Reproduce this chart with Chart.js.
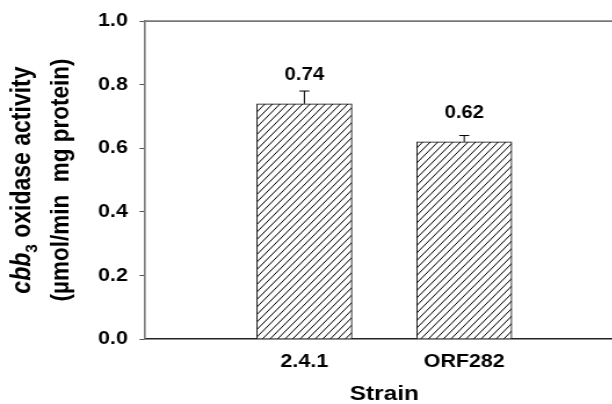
<!DOCTYPE html>
<html>
<head>
<meta charset="utf-8">
<script src="https://cdn.jsdelivr.net/npm/chart.js@4/dist/chart.umd.min.js"></script>
<style>
  html, body { margin: 0; padding: 0; background: #fff; overflow: hidden; width: 612px; height: 404px; }
  #wrap { position: absolute; left: 0; top: 0; width: 538px; height: 404px; transform: scaleX(1.16); transform-origin: 0 0; }
</style>
</head>
<body>
<div id="wrap"><canvas id="c"></canvas></div>
<script>
// ---- data ----
const categories = ['2.4.1', 'ORF282'];
const activity = [0.74, 0.62];
const errors = [0.04, 0.02];
const valueLabels = ['0.74', '0.62'];
const yTicks = [0.0, 0.2, 0.4, 0.6, 0.8, 1.0];

const FONT = '"Liberation Sans", Arial, sans-serif';

// hatch pattern "/"
function makeHatch() {
  const w = 13, h = 15;
  const c = document.createElement('canvas');
  c.width = w; c.height = h;
  const g = c.getContext('2d');
  g.fillStyle = '#fff';
  g.fillRect(0, 0, w, h);
  g.strokeStyle = '#000';
  g.lineWidth = 1;
  for (let k = -3; k <= 3; k++) {
    const off = k * 6.5;
    g.beginPath();
    g.moveTo(off, h);
    g.lineTo(off + w, 0);
    g.stroke();
  }
  return g.createPattern(c, 'repeat');
}
const hatch = makeHatch();

const extrasPlugin = {
  id: 'extras',
  afterDatasetsDraw(chart) {
    const ctx = chart.ctx;
    const ys = chart.scales.y;
    const meta = chart.getDatasetMeta(0);
    const ca = chart.chartArea;
    ctx.save();
    // top frame line
    ctx.strokeStyle = '#777';
    ctx.lineWidth = 1.6;
    ctx.beginPath();
    ctx.moveTo(ca.left, ca.top);
    ctx.lineTo(ca.right, ca.top);
    ctx.stroke();
    // error bars (upper only)
    ctx.strokeStyle = '#000';
    ctx.lineWidth = 1;
    meta.data.forEach((bar, i) => {
      const x = bar.x;
      const yb = ys.getPixelForValue(activity[i]);
      const yt = ys.getPixelForValue(activity[i] + errors[i]);
      ctx.beginPath();
      ctx.moveTo(x, yb);
      ctx.lineTo(x, yt);
      ctx.moveTo(x - 4.3, yt);
      ctx.lineTo(x + 4.3, yt);
      ctx.stroke();
    });
    // value labels
    ctx.fillStyle = '#000';
    ctx.font = 'bold 17.5px ' + FONT;
    ctx.textAlign = 'center';
    ctx.textBaseline = 'middle';
    meta.data.forEach((bar, i) => {
      ctx.fillText(valueLabels[i], bar.x, ys.getPixelForValue(activity[i]) - 29);
    });
    // y-axis title (rich text)
    const cy = (ca.top + ca.bottom) / 2;
    function drawRich(segs, bx) {
      let total = 0;
      segs.forEach(s => { ctx.font = s.font; s.w = ctx.measureText(s.t).width; total += s.w; });
      ctx.save();
      ctx.translate(bx, cy);
      ctx.rotate(-Math.PI / 2);
      ctx.textAlign = 'left';
      ctx.textBaseline = 'alphabetic';
      let x = -total / 2;
      segs.forEach(s => {
        ctx.font = s.font;
        ctx.fillText(s.t, x, s.dy || 0);
        x += s.w;
      });
      ctx.restore();
    }
    drawRich([
      { t: 'cbb', font: 'italic bold 23px ' + FONT },
      { t: '3', font: 'bold 15.5px ' + FONT, dy: 6 },
      { t: ' oxidase activity', font: 'bold 23px ' + FONT }
    ], 26);
    drawRich([
      { t: '(\u00B5mol/min  mg protein)', font: 'bold 22.5px ' + FONT }
    ], 58.5);
    ctx.restore();
  }
};

new Chart(document.getElementById('c'), {
  type: 'bar',
  data: {
    datasets: [{
      data: activity.map((v, i) => ({ x: i + 1, y: v })),
      backgroundColor: hatch,
      borderColor: '#000',
      borderWidth: 1,
      barThickness: 82
    }]
  },
  options: {
    responsive: true,
    maintainAspectRatio: false,
    animation: false,
    devicePixelRatio: 1,
    layout: { padding: { top: 20, right: 0, bottom: 0, left: 0 } },
    plugins: { legend: { display: false }, tooltip: { enabled: false } },
    scales: {
      x: {
        type: 'linear',
        min: 0,
        max: categories.length + 1,
        offset: false,
        grid: { display: false, offset: false, drawTicks: false },
        border: { display: true, color: '#222', width: 1.6 },
        afterBuildTicks(scale) {
          scale.ticks = categories.map((c, i) => ({ value: i + 1 }));
        },
        ticks: {
          autoSkip: false,
          maxRotation: 0,
          padding: 12,
          color: '#000',
          font: { family: FONT, size: 18.5, weight: 'bold' },
          callback: (v) => categories[Math.round(v) - 1] || ''
        },
        title: {
          display: true,
          text: 'Strain',
          color: '#000',
          font: { family: FONT, size: 21, weight: 'bold', lineHeight: 0.9 },
          padding: { top: 0, bottom: 0 }
        },
        afterFit(scale) { scale.height = 65; }
      },
      y: {
        type: 'linear',
        min: 0,
        max: 1,
        afterBuildTicks(scale) {
          scale.ticks = yTicks.map(v => ({ value: v }));
        },
        ticks: {
          padding: 10,
          color: '#000',
          font: { family: FONT, size: 18.5, weight: 'bold' },
          callback: (v) => Number(v).toFixed(1)
        },
        grid: { drawOnChartArea: false, drawTicks: true, tickLength: 4.3, color: '#555', lineWidth: 1 },
        border: { display: true, color: '#777', width: 1.6 },
        afterFit(scale) { scale.width = 124.6; }
      }
    }
  },
  plugins: [extrasPlugin]
});
</script>
</body>
</html>
